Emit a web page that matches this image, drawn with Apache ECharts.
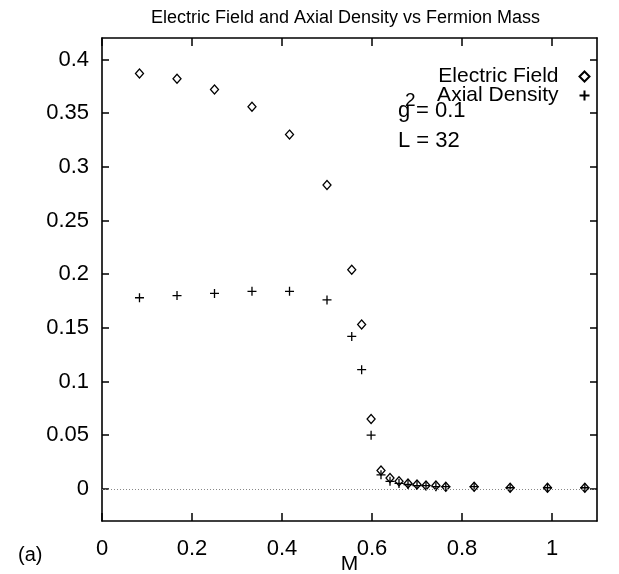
<!DOCTYPE html>
<html>
<head>
<meta charset="utf-8">
<script src="https://cdn.jsdelivr.net/npm/echarts@6/dist/echarts.min.js"></script>
<style>
  html, body { margin: 0; padding: 0; background: #fff; }
  #chart { width: 619px; height: 574px; }
</style>
</head>
<body>
<div id="chart"></div>
<script>
// ---- data ----
const fieldMass = [0.0833, 0.1667, 0.25, 0.3333, 0.4167, 0.5, 0.555, 0.577, 0.598, 0.62, 0.64, 0.66, 0.68, 0.70, 0.72, 0.742, 0.764, 0.827, 0.907, 0.99, 1.073];
const electricField = [0.387, 0.382, 0.372, 0.356, 0.330, 0.283, 0.204, 0.153, 0.065, 0.017, 0.010, 0.007, 0.005, 0.004, 0.003, 0.003, 0.002, 0.002, 0.001, 0.001, 0.001];
const densityMass = [0.0833, 0.1667, 0.25, 0.3333, 0.4167, 0.5, 0.555, 0.577, 0.598, 0.62, 0.64, 0.66, 0.68, 0.70, 0.72, 0.742, 0.764, 0.827, 0.907, 0.99, 1.073];
const axialDensity = [0.178, 0.180, 0.182, 0.184, 0.184, 0.176, 0.142, 0.111, 0.050, 0.013, 0.007, 0.005, 0.004, 0.003, 0.003, 0.002, 0.002, 0.002, 0.001, 0.001, 0.001];
const xTicks = [0, 0.2, 0.4, 0.6, 0.8, 1];
const xTickLabels = ['0', '0.2', '0.4', '0.6', '0.8', '1'];
const yTicks = [0, 0.05, 0.1, 0.15, 0.2, 0.25, 0.3, 0.35, 0.4];
const yTickLabels = ['0', '0.05', '0.1', '0.15', '0.2', '0.25', '0.3', '0.35', '0.4'];
const seriesNames = ['Electric Field', 'Axial Density'];
const titleText = 'Electric Field and Axial Density vs Fermion Mass';

const FONT = '"Liberation Sans", Arial, Helvetica, sans-serif';
const chart = echarts.init(document.getElementById('chart'), null, { renderer: 'canvas' });

const zip = (xs, ys) => xs.map((x, i) => [x, ys[i]]);
const crossPath = 'path://M0,5L10,5M5,0L5,10';

function tickStyle(vals, len) {
  return { show: true, inside: true, length: len, customValues: vals, lineStyle: { color: '#000', width: 1.5 } };
}
function axisCommon(extra) {
  return Object.assign({
    type: 'value',
    axisLine: { show: true, onZero: false, lineStyle: { color: '#000', width: 1.6 } },
    splitLine: { show: false },
    minorTick: { show: false }
  }, extra);
}

const option = {
  backgroundColor: '#fff',
  animation: false,
  textStyle: { fontFamily: FONT, color: '#000' },
  title: {
    text: titleText,
    left: 146, top: 4,
    textStyle: { fontFamily: FONT, fontSize: 18, fontWeight: 'normal', color: '#000' }
  },
  grid: { left: 102, right: 22, top: 38, bottom: 53, containLabel: false, outerBoundsMode: 'none' },
  legend: {
    data: seriesNames,
    orient: 'vertical',
    align: 'right',
    right: 22, top: 61,
    itemGap: -2,
    itemWidth: 10, itemHeight: 10,
    textStyle: { fontFamily: FONT, fontSize: 21, color: '#000', padding: [0, 16, 0, 0] }
  },
  xAxis: [
    axisCommon({
      position: 'bottom', min: 0, max: 1.1,
      name: 'M', nameLocation: 'middle', nameGap: 33, nameMoveOverlap: false,
      nameTextStyle: { fontFamily: FONT, fontSize: 21, color: '#000' },
      axisTick: tickStyle(xTicks, 8),
      axisLabel: { show: true, customValues: xTicks, margin: 17, fontFamily: FONT, fontSize: 22, color: '#000',
        formatter: v => xTickLabels[xTicks.indexOf(+v.toFixed(4))] ?? '' }
    }),
    axisCommon({
      position: 'top', min: 0, max: 1.1,
      axisTick: tickStyle(xTicks, 8),
      axisLabel: { show: false }
    })
  ],
  yAxis: [
    axisCommon({
      position: 'left', min: -0.03, max: 0.42,
      axisTick: tickStyle(yTicks, 7),
      axisLabel: { show: true, customValues: yTicks, margin: 13, fontFamily: FONT, fontSize: 22, color: '#000',
        formatter: v => yTickLabels[yTicks.indexOf(+v.toFixed(4))] ?? '' }
    }),
    axisCommon({
      position: 'right', min: -0.03, max: 0.42,
      axisTick: tickStyle(yTicks, 7),
      axisLabel: { show: false }
    })
  ],
  graphic: [
    { type: 'text', left: 398, top: 100, style: { text: 'g', font: '22px ' + FONT, fill: '#000' } },
    { type: 'text', left: 405, top: 91, style: { text: '2', font: '19px ' + FONT, fill: '#000' } },
    { type: 'text', left: 416, top: 100, style: { text: '= 0.1', font: '22px ' + FONT, fill: '#000' } },
    { type: 'text', left: 398, top: 130, style: { text: 'L = 32', font: '22px ' + FONT, fill: '#000' } },
    { type: 'text', left: 18, top: 545, style: { text: '(a)', font: '20px ' + FONT, fill: '#000' } }
  ],
  series: [
    {
      name: seriesNames[0],
      type: 'scatter',
      xAxisIndex: 0, yAxisIndex: 0,
      symbol: 'diamond',
      symbolSize: [8, 9],
      itemStyle: { color: '#fff', borderColor: '#000', borderWidth: 1.3, opacity: 1 },
      data: zip(fieldMass, electricField),
      z: 3,
      markLine: {
        silent: true,
        symbol: 'none',
        label: { show: false },
        lineStyle: { color: '#888', type: [1, 2], width: 1 },
        data: [{ yAxis: 0 }]
      }
    },
    {
      name: seriesNames[1],
      type: 'scatter',
      xAxisIndex: 0, yAxisIndex: 0,
      symbol: crossPath,
      symbolSize: 9,
      itemStyle: { color: 'none', borderColor: '#000', borderWidth: 1.3, opacity: 1 },
      data: zip(densityMass, axialDensity),
      z: 4
    }
  ]
};
chart.setOption(option);
</script>
</body>
</html>
